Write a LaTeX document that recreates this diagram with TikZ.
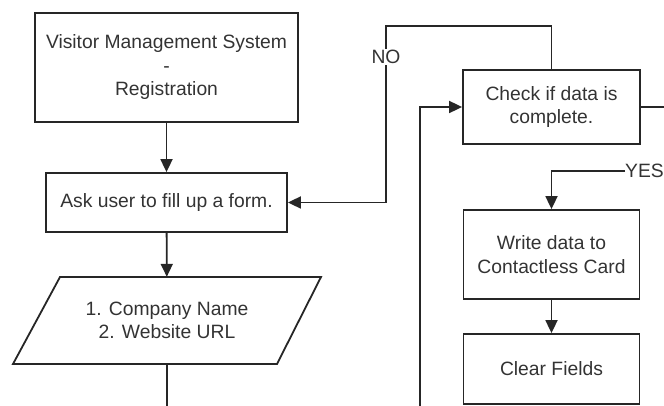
\documentclass[tikz,border=0pt]{standalone}
\usepackage{fontspec}
\setmainfont{Liberation Sans}
\usetikzlibrary{arrows.meta}
\begin{document}
\begin{tikzpicture}[x=1pt,y=-1pt,
  every node/.style={font=\fontsize{19.3}{23.5}\selectfont, text=black!80, inner sep=0pt},
  box/.style={draw=black!85, line width=1.8pt, align=center},
  conn/.style={draw=black!85, line width=1.8pt},
  arr/.style={conn, -{Triangle[length=13pt,width=12pt]}}]
\useasboundingbox (0,0) rectangle (664,406);
\node[box, minimum width=263pt, minimum height=109pt] (vms) at (166.5,67.5) {Visitor Management System\\-\\Registration};
\node[box, minimum width=241pt, minimum height=59pt] (ask) at (166.5,202.5) {Ask user to fill up a form.};
\node[align=center, minimum width=200pt, minimum height=87pt] (form) at (167,320.5) {1. Company Name\\2. Website URL};
\draw[conn] (60,277) -- (321,277) -- (277,364) -- (13,364) -- cycle;
\node[box, minimum width=177pt, minimum height=74pt] (check) at (551.5,107) {Check if data is\\complete.};
\node[box, minimum width=176pt, minimum height=89pt] (write) at (551.5,254.5) {Write data to\\Contactless Card};
\node[box, minimum width=176pt, minimum height=70pt] (clear) at (551.5,369) {Clear Fields};
\coordinate (formout) at (167,406);
\coordinate (checkout) at (664,107);
\coordinate (loopin) at (420,406);
\node[anchor=west] (yes) at (625,171) {YES};
\draw[arr] (vms) -- (ask);
\draw[arr] (ask) -- (form);
\draw[conn] (form) -- (formout);
\draw[arr] (check.north) -- (551.5,26) -- (386,26) -- (386,202.5) -- (ask.east);
\node[fill=white, inner sep=1.5pt] (no) at (386,57) {NO};
\draw[conn] (check.east) -- (checkout);
\draw[arr] (loopin) -- (420,107) -- (check.west);
\draw[arr] (yes.west) -- (551.5,171) -- (write.north);
\draw[arr] (write) -- (clear);
\end{tikzpicture}
\end{document}
